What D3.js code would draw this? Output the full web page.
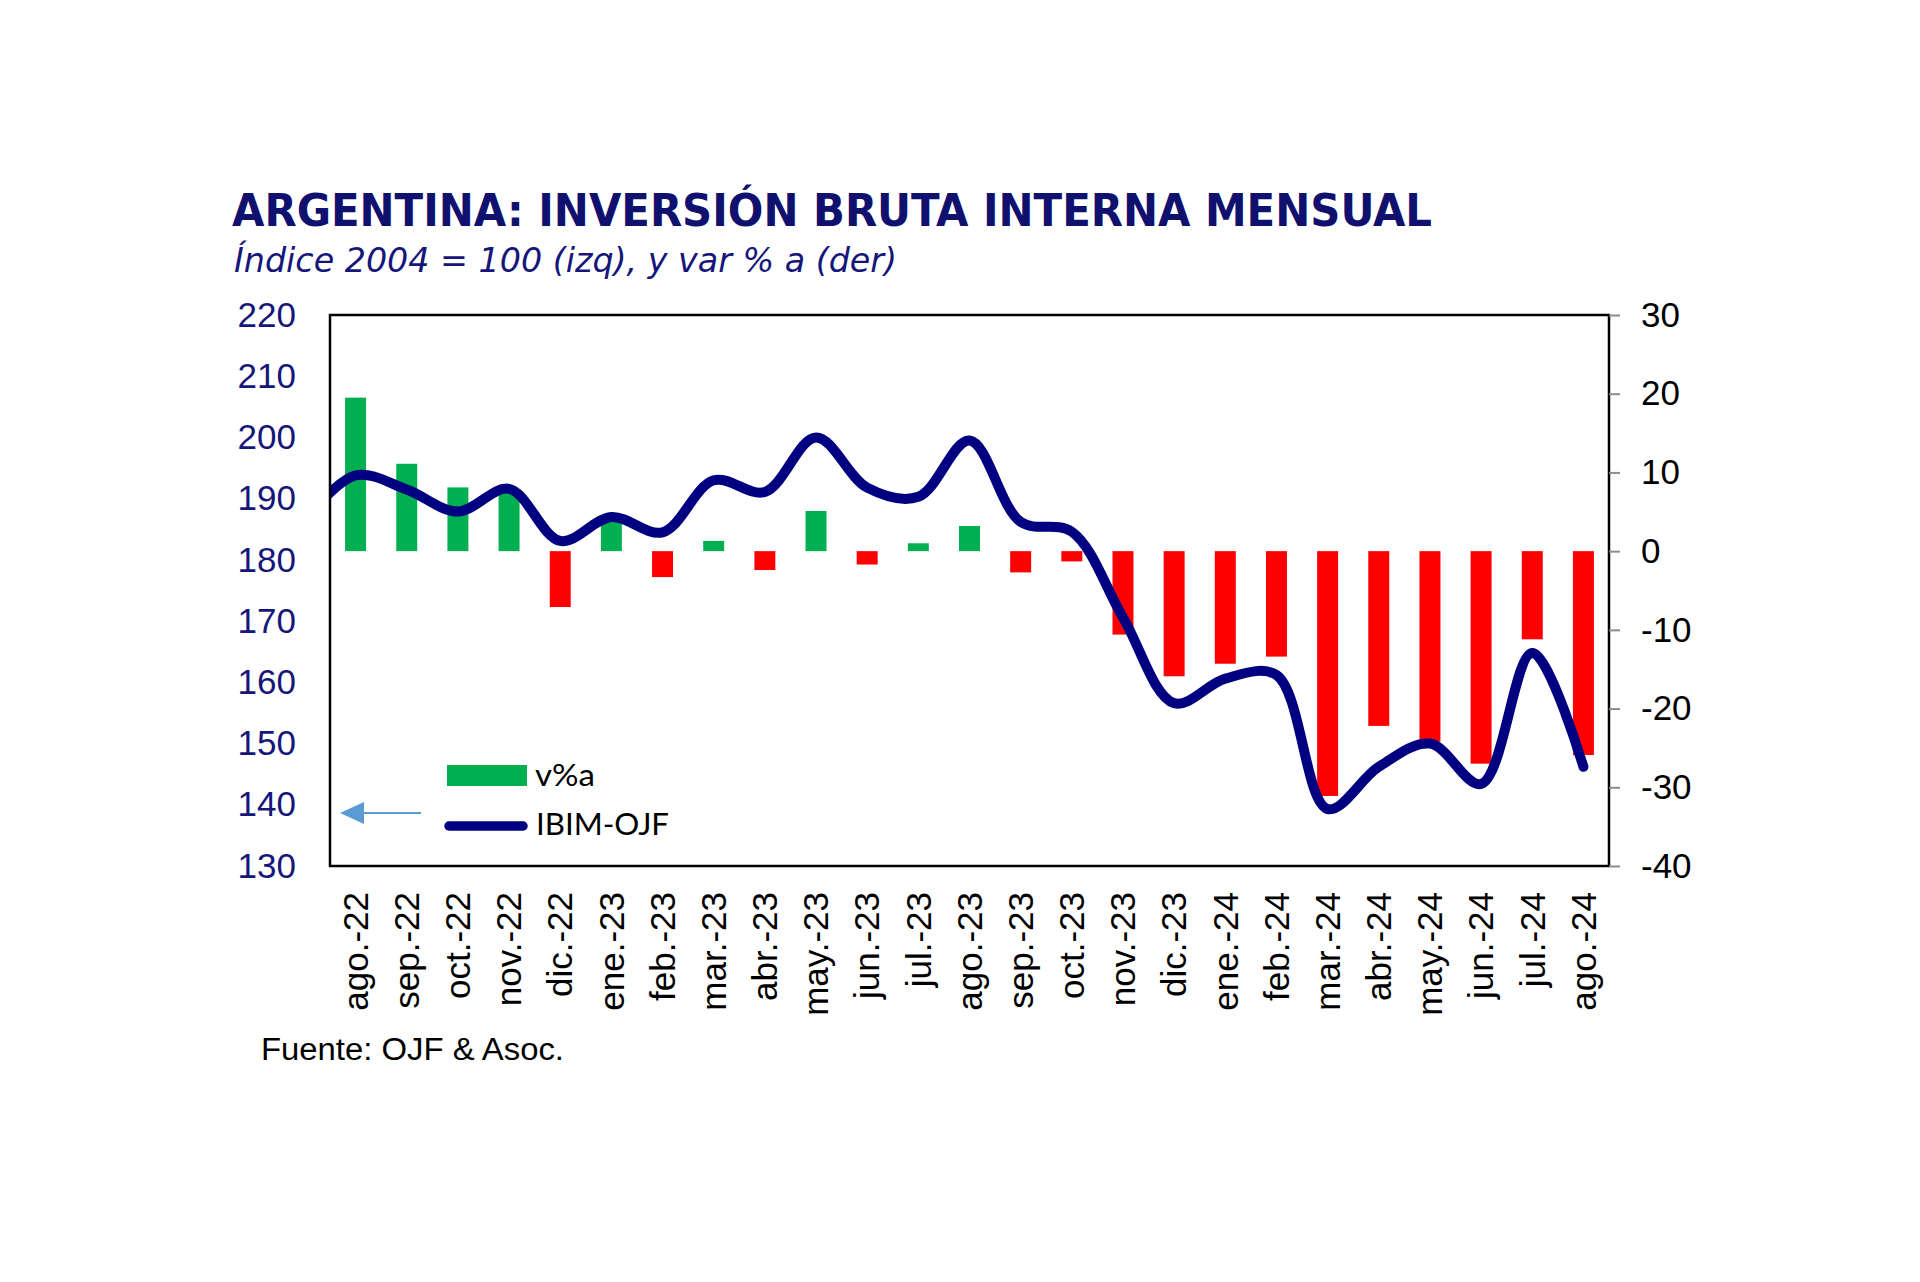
<!DOCTYPE html>
<html>
<head>
<meta charset="utf-8">
<script src="https://cdn.jsdelivr.net/npm/d3@7"></script>
<style>
  body { margin: 0; background: #ffffff; }
  svg { display: block; }
</style>
</head>
<body>
<svg id="chart" width="1920" height="1282"></svg>
<script>
// ---------------- DATA ----------------
const categories = ["ago.-22","sep.-22","oct.-22","nov.-22","dic.-22","ene.-23","feb.-23","mar.-23","abr.-23",
  "may.-23","jun.-23","jul.-23","ago.-23","sep.-23","oct.-23","nov.-23","dic.-23","ene.-24","feb.-24",
  "mar.-24","abr.-24","may.-24","jun.-24","jul.-24","ago.-24"];

// v%a (right axis)
const varPct = [19.5, 11.1, 8.1, 7.6, -7.1, 4.2, -3.3, 1.3, -2.4,
  5.1, -1.7, 1.0, 3.2, -2.7, -1.3, -10.6, -15.9, -14.3, -13.4,
  -31.1, -22.2, -24.2, -27.0, -11.2, -25.9];

// IBIM-OJF index (left axis); series starts one month before the first shown category (clipped by the plot area)
const lineCategories = ["jul.-22"].concat(categories);
const ibim = [186.5, 193.8, 191.5, 187.9, 191.6, 183.1, 187.0, 184.5, 193.0, 191.1,
  200.0, 191.8, 190.3, 199.5, 186.2, 184.6, 170.6, 156.6, 160.6, 161.2,
  139.3, 146.2, 150.0, 143.4, 164.8, 146.2];

const leftTicks = [130, 140, 150, 160, 170, 180, 190, 200, 210, 220];
const rightTicks = [-40, -30, -20, -10, 0, 10, 20, 30];

const titleText = "ARGENTINA: INVERSIÓN BRUTA INTERNA MENSUAL";
const subtitleText = "Índice 2004 = 100 (izq), y var % a (der)";
const sourceText = "Fuente: OJF & Asoc.";
const legendBars = "v%a";
const legendLine = "IBIM-OJF";

// ---------------- LAYOUT ----------------
const plot = { left: 330, right: 1609, top: 315, bottom: 866 };
const navy = "#000080";
const textNavy = "#16167a";
const green = "#00b050";
const red = "#ff0000";

const svg = d3.select("#chart");

const x = d3.scaleBand().domain(categories)
  .range([plot.left, plot.right])
  .paddingInner(0.59).paddingOuter(0.295);
const step = x.step();
const bw = x.bandwidth();
const firstC = x(categories[0]) + bw / 2;
const lastC = x(categories[categories.length - 1]) + bw / 2;
const xLine = d3.scalePoint().domain(lineCategories).range([firstC - step, lastC]);

const yL = d3.scaleLinear().domain([130, 220]).range([plot.bottom, plot.top]);
const yR = d3.scaleLinear().domain([-40, 30]).range([plot.bottom, plot.top]);

const fmt = d => String(d);

// clip
svg.append("defs").append("clipPath").attr("id", "plotClip")
  .append("rect")
  .attr("x", plot.left).attr("y", plot.top)
  .attr("width", plot.right - plot.left).attr("height", plot.bottom - plot.top);

// Title
svg.append("text")
  .attr("x", 232).attr("y", 226)
  .attr("textLength", 1200).attr("lengthAdjust", "spacingAndGlyphs")
  .style("font-family", "'DejaVu Sans Condensed', 'DejaVu Sans', sans-serif")
  .style("font-stretch", "condensed")
  .style("font-weight", "bold")
  .style("font-size", "45px")
  .style("fill", "#10106e")
  .text(titleText);

svg.append("text")
  .attr("x", 234).attr("y", 272)
  .attr("textLength", 663).attr("lengthAdjust", "spacingAndGlyphs")
  .style("font-family", "'DejaVu Sans Condensed', 'DejaVu Sans', sans-serif")
  .style("font-stretch", "condensed")
  .style("font-style", "italic")
  .style("font-size", "33px")
  .style("fill", "#16167a")
  .text(subtitleText);

// Bars
svg.append("g").selectAll("rect")
  .data(categories.map((c, i) => ({ c, v: varPct[i] })))
  .join("rect")
  .attr("x", d => x(d.c))
  .attr("width", bw)
  .attr("y", d => yR(Math.max(0, d.v)))
  .attr("height", d => Math.abs(yR(d.v) - yR(0)))
  .attr("fill", d => d.v >= 0 ? green : red);

// Line
const lineGen = d3.line()
  .x(d => xLine(d.c))
  .y(d => yL(d.v))
  .curve(d3.curveCatmullRom.alpha(0.5));

svg.append("path")
  .datum(lineCategories.map((c, i) => ({ c, v: ibim[i] })))
  .attr("clip-path", "url(#plotClip)")
  .attr("d", lineGen)
  .attr("fill", "none")
  .attr("stroke", navy)
  .attr("stroke-width", 10)
  .attr("stroke-linejoin", "round")
  .attr("stroke-linecap", "round");

// Plot border
svg.append("rect")
  .attr("x", plot.left).attr("y", plot.top)
  .attr("width", plot.right - plot.left).attr("height", plot.bottom - plot.top)
  .attr("fill", "none").attr("stroke", "#000").attr("stroke-width", 2.5);

// Left axis
const gL = svg.append("g").attr("transform", `translate(${plot.left},0)`)
  .call(d3.axisLeft(yL).tickValues(leftTicks).tickSize(0).tickPadding(34).tickFormat(fmt));
gL.select(".domain").remove();
gL.selectAll("text")
  .style("font-family", "'Liberation Sans', Arial, sans-serif")
  .style("font-size", "35px")
  .style("fill", textNavy);

// Right axis
const gR = svg.append("g").attr("transform", `translate(${plot.right},0)`)
  .call(d3.axisRight(yR).tickValues(rightTicks).tickSize(11).tickPadding(21).tickFormat(fmt));
gR.select(".domain").remove();
gR.selectAll("line").attr("stroke", "#8c8c8c").attr("stroke-width", 2);
gR.selectAll("text")
  .style("font-family", "'Liberation Sans', Arial, sans-serif")
  .style("font-size", "35px")
  .style("fill", "#000");

// Bottom axis
const gB = svg.append("g").attr("transform", `translate(0,${plot.bottom})`)
  .call(d3.axisBottom(x).tickSize(0));
gB.select(".domain").remove();
gB.selectAll("text")
  .attr("transform", "rotate(-90)")
  .attr("x", -26).attr("y", 0).attr("dy", "0.35em")
  .style("text-anchor", "end")
  .style("font-family", "'Liberation Sans', Arial, sans-serif")
  .style("font-size", "35px")
  .style("fill", "#000");

// Legend
const lg = svg.append("g");
lg.append("rect").attr("x", 447).attr("y", 765).attr("width", 80).attr("height", 21).attr("fill", green);
lg.append("text").attr("x", 535).attr("y", 786)
  .attr("textLength", 60).attr("lengthAdjust", "spacingAndGlyphs")
  .style("font-family", "Lato, 'Open Sans', sans-serif").style("font-size", "31px").style("fill", "#000")
  .text(legendBars);
lg.append("line").attr("x1", 449).attr("x2", 523).attr("y1", 826).attr("y2", 826)
  .attr("stroke", navy).attr("stroke-width", 9.5).attr("stroke-linecap", "round");
lg.append("text").attr("x", 536).attr("y", 835)
  .attr("textLength", 133).attr("lengthAdjust", "spacingAndGlyphs")
  .style("font-family", "Lato, 'Open Sans', sans-serif").style("font-size", "31px").style("fill", "#000")
  .text(legendLine);

// Arrow pointing to left axis
lg.append("line").attr("x1", 360).attr("x2", 421).attr("y1", 813).attr("y2", 813)
  .attr("stroke", "#5b9bd5").attr("stroke-width", 2);
lg.append("path").attr("d", "M340,813 L364,802 L364,824 Z").attr("fill", "#5b9bd5");

// Source
svg.append("text").attr("x", 261).attr("y", 1060)
  .attr("textLength", 303).attr("lengthAdjust", "spacingAndGlyphs")
  .style("font-family", "'Liberation Sans', Arial, sans-serif")
  .style("font-size", "31px").style("fill", "#000")
  .text(sourceText);
</script>
</body>
</html>
